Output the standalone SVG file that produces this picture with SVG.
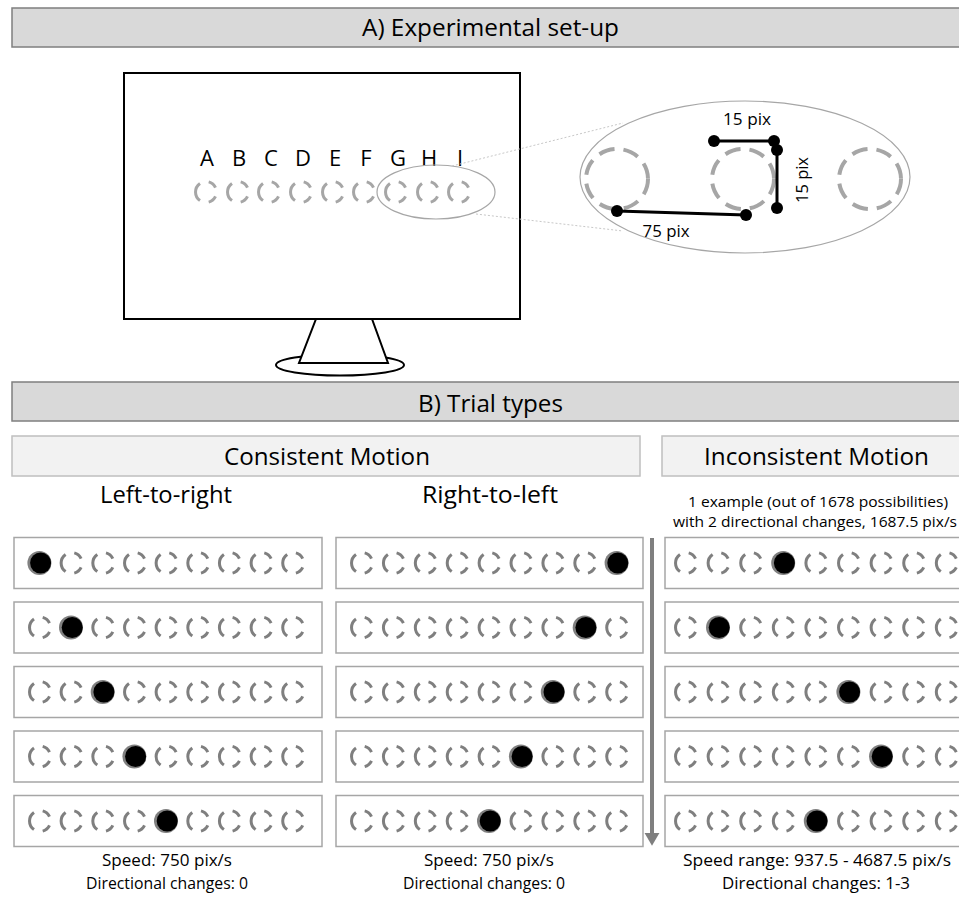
<svg xmlns="http://www.w3.org/2000/svg" xmlns:xlink="http://www.w3.org/1999/xlink" width="959" height="899" viewBox="0 0 959 899">
  <style>
    text { font-family: "Open Sans", "Liberation Sans", sans-serif; fill: #000; }
    .hdr { fill: #d9d9d9; stroke: #7f7f7f; stroke-width: 1.5; }
    .sub { fill: #f2f2f2; stroke: #bfbfbf; stroke-width: 1.5; }
    .row { fill: #fff; stroke: #a6a6a6; stroke-width: 1.5; }
    .ring { fill: none; stroke: #7f7f7f; stroke-width: 3; }
    .ring-light { fill: none; stroke: #a6a6a6; stroke-width: 3; }
    .big-ring { fill: none; stroke: #a6a6a6; stroke-width: 4; stroke-dasharray: 16 9; }
    .zoomline { stroke: #c8c8c8; stroke-width: 1; stroke-dasharray: 2 2; fill: none; }
    .outline { fill: #fff; stroke: #000; stroke-width: 2; }
    .measure { stroke: #000; stroke-width: 3; fill: none; }
    .pin { fill: #000; }
  </style>
  <defs>
    <!-- dashed target location: one long left arc and two short right arcs -->
    <path id="ring" d="M-6 8.6 A10.5 10.5 0 0 1 -6 -8.6 M2.7 -10.1 A10.5 10.5 0 0 1 9.5 -4.4 M9.5 4.4 A10.5 10.5 0 0 1 2.7 10.1"/>
    <!-- filled target -->
    <g id="dot">
      <circle cx="-0.6" cy="0" r="12" fill="#808080"/>
      <circle cx="0.6" cy="0" r="10.5" fill="#000"/>
    </g>
    <marker id="arrowhead" viewBox="0 0 12 14" refX="1" refY="7" markerWidth="3.2" markerHeight="3.8" orient="auto" markerUnits="strokeWidth">
      <path d="M0 0 L12 7 L0 14 Z" fill="#7f7f7f"/>
    </marker>
  </defs>

  <!-- Section A header -->
  <g id="header-a">
    <rect class="hdr" x="12" y="8" width="960" height="39"/>
    <text x="490.5" y="36" font-size="24" text-anchor="middle" textLength="257" lengthAdjust="spacingAndGlyphs">A) Experimental set-up</text>
  </g>

  <!-- Monitor with stand -->
  <g id="monitor">
    <ellipse class="outline" cx="340" cy="365" rx="64" ry="10.5"/>
    <polygon class="outline" points="316,319 372,319 388,363 299,363"/>
    <rect class="outline" x="124" y="73" width="396" height="246"/>
  </g>

  <!-- Stimulus locations on screen -->
  <g id="screen-locations">
    <g font-size="22" text-anchor="middle">
      <text x="207" y="166">A</text>
      <text x="239" y="166">B</text>
      <text x="271" y="166">C</text>
      <text x="303" y="166">D</text>
      <text x="335" y="166">E</text>
      <text x="366" y="166">F</text>
      <text x="398" y="166">G</text>
      <text x="429" y="166">H</text>
      <text x="460" y="166">I</text>
    </g>
    <g class="ring-light">
      <use xlink:href="#ring" x="206" y="192"/>
      <use xlink:href="#ring" x="238" y="192"/>
      <use xlink:href="#ring" x="269" y="192"/>
      <use xlink:href="#ring" x="301" y="192"/>
      <use xlink:href="#ring" x="333" y="192"/>
      <use xlink:href="#ring" x="364" y="192"/>
      <use xlink:href="#ring" x="396" y="192"/>
      <use xlink:href="#ring" x="428" y="192"/>
      <use xlink:href="#ring" x="459" y="192"/>
    </g>
    <ellipse cx="436" cy="192" rx="59" ry="27" fill="none" stroke="#a6a6a6" stroke-width="1.2"/>
  </g>

  <!-- Magnified inset with distances -->
  <g id="inset">
    <ellipse cx="745" cy="177" rx="165" ry="76" fill="none" stroke="#a6a6a6" stroke-width="1.2"/>
    <ellipse class="big-ring" cx="617" cy="179" rx="31" ry="30"/>
    <ellipse class="big-ring" cx="743" cy="179" rx="31" ry="30"/>
    <ellipse class="big-ring" cx="870" cy="179" rx="31" ry="30"/>
    <line class="measure" x1="714" y1="141" x2="774" y2="141"/>
    <line class="measure" x1="777" y1="150" x2="777" y2="208"/>
    <line class="measure" x1="617" y1="211" x2="746" y2="215"/>
    <circle class="pin" cx="714" cy="141" r="6"/>
    <circle class="pin" cx="774" cy="141" r="6"/>
    <circle class="pin" cx="777" cy="150" r="6"/>
    <circle class="pin" cx="777" cy="208" r="6"/>
    <circle class="pin" cx="617" cy="211" r="6"/>
    <circle class="pin" cx="746" cy="215" r="6"/>
    <text x="747" y="125" font-size="17" text-anchor="middle" textLength="48" lengthAdjust="spacingAndGlyphs">15 pix</text>
    <text x="666" y="237" font-size="17" text-anchor="middle" textLength="47" lengthAdjust="spacingAndGlyphs">75 pix</text>
    <text transform="translate(808,180) rotate(-90)" font-size="17" text-anchor="middle" textLength="46" lengthAdjust="spacingAndGlyphs">15 pix</text>
  </g>

  <!-- Section B header -->
  <g id="header-b">
    <rect class="hdr" x="12" y="382" width="960" height="39"/>
    <text x="490.5" y="412" font-size="24" text-anchor="middle" textLength="145" lengthAdjust="spacingAndGlyphs">B) Trial types</text>
  </g>

  <g id="consistent-header">
    <rect class="sub" x="12" y="436" width="628" height="40"/>
    <text x="327" y="465" font-size="23" text-anchor="middle" textLength="206" lengthAdjust="spacingAndGlyphs">Consistent Motion</text>
  </g>
  <g id="inconsistent-header">
    <rect class="sub" x="662" y="436" width="310" height="40"/>
    <text x="816.5" y="465" font-size="23" text-anchor="middle" textLength="225" lengthAdjust="spacingAndGlyphs">Inconsistent Motion</text>
  </g>

  <!-- Left-to-right column -->
  <g id="left-to-right">
    <text x="166" y="503" font-size="23" text-anchor="middle" textLength="132" lengthAdjust="spacingAndGlyphs">Left-to-right</text>
    <g transform="translate(0,563)">
      <rect class="row" x="14" y="-25.5" width="308" height="51"/>
      <use xlink:href="#dot" x="40" y="0"/>
      <g class="ring"><use xlink:href="#ring" x="71.6"/><use xlink:href="#ring" x="103.3"/><use xlink:href="#ring" x="135"/><use xlink:href="#ring" x="166.6"/><use xlink:href="#ring" x="198.3"/><use xlink:href="#ring" x="229.9"/><use xlink:href="#ring" x="261.6"/><use xlink:href="#ring" x="293.2"/></g>
    </g>
    <g transform="translate(0,627.5)">
      <rect class="row" x="14" y="-25.5" width="308" height="51"/>
      <use xlink:href="#dot" x="71.6" y="0"/>
      <g class="ring"><use xlink:href="#ring" x="40"/><use xlink:href="#ring" x="103.3"/><use xlink:href="#ring" x="135"/><use xlink:href="#ring" x="166.6"/><use xlink:href="#ring" x="198.3"/><use xlink:href="#ring" x="229.9"/><use xlink:href="#ring" x="261.6"/><use xlink:href="#ring" x="293.2"/></g>
    </g>
    <g transform="translate(0,692)">
      <rect class="row" x="14" y="-25.5" width="308" height="51"/>
      <use xlink:href="#dot" x="103.3" y="0"/>
      <g class="ring"><use xlink:href="#ring" x="40"/><use xlink:href="#ring" x="71.6"/><use xlink:href="#ring" x="135"/><use xlink:href="#ring" x="166.6"/><use xlink:href="#ring" x="198.3"/><use xlink:href="#ring" x="229.9"/><use xlink:href="#ring" x="261.6"/><use xlink:href="#ring" x="293.2"/></g>
    </g>
    <g transform="translate(0,756.5)">
      <rect class="row" x="14" y="-25.5" width="308" height="51"/>
      <use xlink:href="#dot" x="135" y="0"/>
      <g class="ring"><use xlink:href="#ring" x="40"/><use xlink:href="#ring" x="71.6"/><use xlink:href="#ring" x="103.3"/><use xlink:href="#ring" x="166.6"/><use xlink:href="#ring" x="198.3"/><use xlink:href="#ring" x="229.9"/><use xlink:href="#ring" x="261.6"/><use xlink:href="#ring" x="293.2"/></g>
    </g>
    <g transform="translate(0,821)">
      <rect class="row" x="14" y="-25.5" width="308" height="51"/>
      <use xlink:href="#dot" x="166.6" y="0"/>
      <g class="ring"><use xlink:href="#ring" x="40"/><use xlink:href="#ring" x="71.6"/><use xlink:href="#ring" x="103.3"/><use xlink:href="#ring" x="135"/><use xlink:href="#ring" x="198.3"/><use xlink:href="#ring" x="229.9"/><use xlink:href="#ring" x="261.6"/><use xlink:href="#ring" x="293.2"/></g>
    </g>
    <text x="167" y="866" font-size="17" text-anchor="middle" textLength="130" lengthAdjust="spacingAndGlyphs">Speed: 750 pix/s</text>
    <text x="167" y="889" font-size="17" text-anchor="middle" textLength="162" lengthAdjust="spacingAndGlyphs">Directional changes: 0</text>
  </g>

  <!-- Right-to-left column -->
  <g id="right-to-left">
    <text x="490" y="503" font-size="23" text-anchor="middle" textLength="136" lengthAdjust="spacingAndGlyphs">Right-to-left</text>
    <g transform="translate(0,563)">
      <rect class="row" x="336" y="-25.5" width="307" height="51"/>
      <use xlink:href="#dot" x="617.2" y="0"/>
      <g class="ring"><use xlink:href="#ring" x="362"/><use xlink:href="#ring" x="393.9"/><use xlink:href="#ring" x="425.8"/><use xlink:href="#ring" x="457.7"/><use xlink:href="#ring" x="489.6"/><use xlink:href="#ring" x="521.5"/><use xlink:href="#ring" x="553.4"/><use xlink:href="#ring" x="585.3"/></g>
    </g>
    <g transform="translate(0,627.5)">
      <rect class="row" x="336" y="-25.5" width="307" height="51"/>
      <use xlink:href="#dot" x="585.3" y="0"/>
      <g class="ring"><use xlink:href="#ring" x="362"/><use xlink:href="#ring" x="393.9"/><use xlink:href="#ring" x="425.8"/><use xlink:href="#ring" x="457.7"/><use xlink:href="#ring" x="489.6"/><use xlink:href="#ring" x="521.5"/><use xlink:href="#ring" x="553.4"/><use xlink:href="#ring" x="617.2"/></g>
    </g>
    <g transform="translate(0,692)">
      <rect class="row" x="336" y="-25.5" width="307" height="51"/>
      <use xlink:href="#dot" x="553.4" y="0"/>
      <g class="ring"><use xlink:href="#ring" x="362"/><use xlink:href="#ring" x="393.9"/><use xlink:href="#ring" x="425.8"/><use xlink:href="#ring" x="457.7"/><use xlink:href="#ring" x="489.6"/><use xlink:href="#ring" x="521.5"/><use xlink:href="#ring" x="585.3"/><use xlink:href="#ring" x="617.2"/></g>
    </g>
    <g transform="translate(0,756.5)">
      <rect class="row" x="336" y="-25.5" width="307" height="51"/>
      <use xlink:href="#dot" x="521.5" y="0"/>
      <g class="ring"><use xlink:href="#ring" x="362"/><use xlink:href="#ring" x="393.9"/><use xlink:href="#ring" x="425.8"/><use xlink:href="#ring" x="457.7"/><use xlink:href="#ring" x="489.6"/><use xlink:href="#ring" x="553.4"/><use xlink:href="#ring" x="585.3"/><use xlink:href="#ring" x="617.2"/></g>
    </g>
    <g transform="translate(0,821)">
      <rect class="row" x="336" y="-25.5" width="307" height="51"/>
      <use xlink:href="#dot" x="489.6" y="0"/>
      <g class="ring"><use xlink:href="#ring" x="362"/><use xlink:href="#ring" x="393.9"/><use xlink:href="#ring" x="425.8"/><use xlink:href="#ring" x="457.7"/><use xlink:href="#ring" x="521.5"/><use xlink:href="#ring" x="553.4"/><use xlink:href="#ring" x="585.3"/><use xlink:href="#ring" x="617.2"/></g>
    </g>
    <text x="489" y="866" font-size="17" text-anchor="middle" textLength="130" lengthAdjust="spacingAndGlyphs">Speed: 750 pix/s</text>
    <text x="484" y="889" font-size="17" text-anchor="middle" textLength="162" lengthAdjust="spacingAndGlyphs">Directional changes: 0</text>
  </g>

  <!-- Inconsistent motion example column -->
  <g id="inconsistent-example">
    <text x="818" y="507" font-size="15" text-anchor="middle" textLength="260" lengthAdjust="spacingAndGlyphs">1 example (out of 1678 possibilities)</text>
    <text x="673" y="527" font-size="15" textLength="284" lengthAdjust="spacingAndGlyphs">with 2 directional changes, 1687.5 pix/s</text>
    <g transform="translate(0,563)">
      <rect class="row" x="665" y="-25.5" width="310" height="51"/>
      <use xlink:href="#dot" x="783.8" y="0"/>
      <g class="ring"><use xlink:href="#ring" x="686"/><use xlink:href="#ring" x="718.6"/><use xlink:href="#ring" x="751.2"/><use xlink:href="#ring" x="816.4"/><use xlink:href="#ring" x="849"/><use xlink:href="#ring" x="881.6"/><use xlink:href="#ring" x="914.2"/><use xlink:href="#ring" x="946.8"/></g>
    </g>
    <g transform="translate(0,627.5)">
      <rect class="row" x="665" y="-25.5" width="310" height="51"/>
      <use xlink:href="#dot" x="718.6" y="0"/>
      <g class="ring"><use xlink:href="#ring" x="686"/><use xlink:href="#ring" x="751.2"/><use xlink:href="#ring" x="783.8"/><use xlink:href="#ring" x="816.4"/><use xlink:href="#ring" x="849"/><use xlink:href="#ring" x="881.6"/><use xlink:href="#ring" x="914.2"/><use xlink:href="#ring" x="946.8"/></g>
    </g>
    <g transform="translate(0,692)">
      <rect class="row" x="665" y="-25.5" width="310" height="51"/>
      <use xlink:href="#dot" x="849" y="0"/>
      <g class="ring"><use xlink:href="#ring" x="686"/><use xlink:href="#ring" x="718.6"/><use xlink:href="#ring" x="751.2"/><use xlink:href="#ring" x="783.8"/><use xlink:href="#ring" x="816.4"/><use xlink:href="#ring" x="881.6"/><use xlink:href="#ring" x="914.2"/><use xlink:href="#ring" x="946.8"/></g>
    </g>
    <g transform="translate(0,756.5)">
      <rect class="row" x="665" y="-25.5" width="310" height="51"/>
      <use xlink:href="#dot" x="881.6" y="0"/>
      <g class="ring"><use xlink:href="#ring" x="686"/><use xlink:href="#ring" x="718.6"/><use xlink:href="#ring" x="751.2"/><use xlink:href="#ring" x="783.8"/><use xlink:href="#ring" x="816.4"/><use xlink:href="#ring" x="849"/><use xlink:href="#ring" x="914.2"/><use xlink:href="#ring" x="946.8"/></g>
    </g>
    <g transform="translate(0,821)">
      <rect class="row" x="665" y="-25.5" width="310" height="51"/>
      <use xlink:href="#dot" x="816.4" y="0"/>
      <g class="ring"><use xlink:href="#ring" x="686"/><use xlink:href="#ring" x="718.6"/><use xlink:href="#ring" x="751.2"/><use xlink:href="#ring" x="783.8"/><use xlink:href="#ring" x="849"/><use xlink:href="#ring" x="881.6"/><use xlink:href="#ring" x="914.2"/><use xlink:href="#ring" x="946.8"/></g>
    </g>
    <text x="817" y="866" font-size="17" text-anchor="middle" textLength="268" lengthAdjust="spacingAndGlyphs">Speed range: 937.5 - 4687.5 pix/s</text>
    <text x="816" y="889" font-size="17" text-anchor="middle" textLength="188" lengthAdjust="spacingAndGlyphs">Directional changes: 1-3</text>
  </g>

  <!-- Connectors: magnification guides and time arrow -->
  <g id="connectors">
    <line class="zoomline" x1="452" y1="166" x2="623" y2="123"/>
    <line class="zoomline" x1="476" y1="214" x2="623" y2="231"/>
    <line x1="652" y1="538" x2="652" y2="834" stroke="#7f7f7f" stroke-width="4" marker-end="url(#arrowhead)"/>
  </g>
</svg>
